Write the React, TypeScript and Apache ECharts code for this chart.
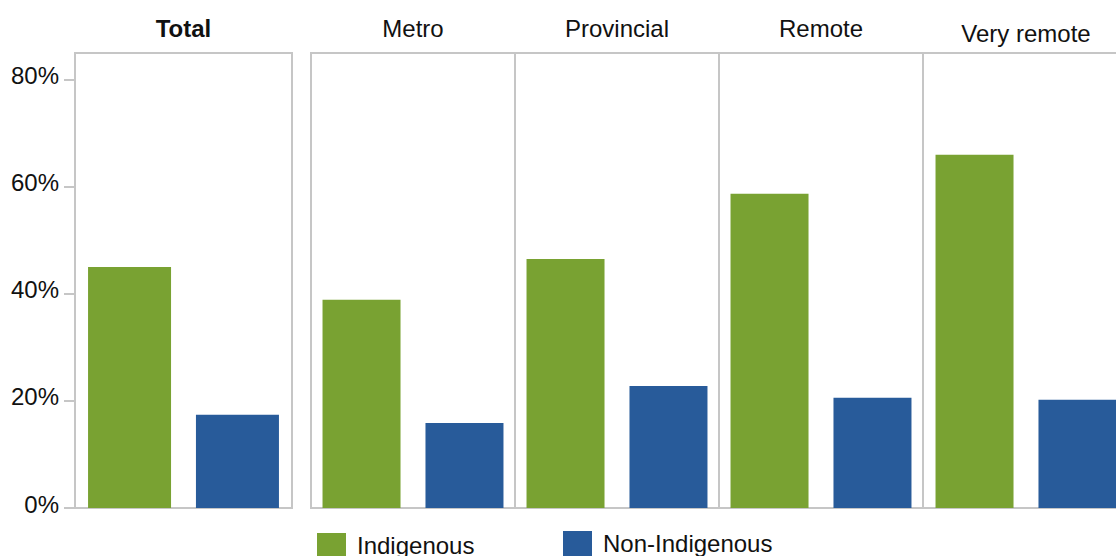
import React, { useEffect, useRef } from "react";
import * as echarts from "echarts";

const categories = ["Total", "Metro", "Provincial", "Remote", "Very remote"];
const indigenous = [45.0, 38.9, 46.5, 58.7, 66.0];
const nonIndigenous = [17.4, 15.9, 22.8, 20.6, 20.2];
const yTicks = [0, 20, 40, 60, 80];
const seriesNames = ["Indigenous", "Non-Indigenous"];

const GREEN = "#79a232";
const BLUE = "#285b9a";
const FONT = "Liberation Sans, Arial, sans-serif";

export default function App() {
  const ref = useRef<HTMLDivElement>(null);
  useEffect(() => {
    if (!ref.current) return;
    const chart = echarts.init(ref.current, undefined, { renderer: "svg" });
    const panelLefts = [75, 311, 515, 719, 923];
    const panelWidths = [217, 204, 204, 204, 206];
    const barWidths = [83, 78, 78, 78, 78];
    const gaps = ["30%", "32%", "32%", "32%", "32%"];
    const grids = categories.map((_, i) => ({
      left: panelLefts[i],
      top: 53,
      width: panelWidths[i],
      height: 455,
      show: true,
      borderColor: "#c6c6c6",
      borderWidth: 2,
      backgroundColor: "transparent",
    }));
    const xAxes = categories.map((c, i) => ({
      type: "category",
      gridIndex: i,
      data: [c],
      position: "top",
      axisLine: { show: false },
      axisTick: { show: false },
      axisLabel: {
        show: true,
        fontSize: 24,
        fontFamily: FONT,
        color: "#111",
        fontWeight: i === 0 ? "bold" : "normal",
        margin: i === 4 ? 8 : 13,
      },
    }));
    const yAxes = categories.map((_, i) => ({
      type: "value",
      gridIndex: i,
      min: 0,
      max: 85,
      interval: 20,
      splitLine: { show: false },
      axisLine: { show: false },
      axisTick: {
        show: i === 0,
        length: 11,
        customValues: yTicks,
        lineStyle: { color: "#c6c6c6", width: 2 },
      },
      axisLabel: {
        show: i === 0,
        customValues: yTicks,
        formatter: (v: number) => `{t|${v}%}\n{s|}`,
        fontSize: 24,
        fontFamily: FONT,
        color: "#111",
        margin: 16,
        rich: {
          t: { fontSize: 24, fontFamily: FONT, color: "#111", lineHeight: 24 },
          s: { fontSize: 8, lineHeight: 8 },
        },
      },
    }));
    const series: any[] = [];
    categories.forEach((_, i) => {
      series.push({
        type: "bar",
        name: seriesNames[0],
        xAxisIndex: i,
        yAxisIndex: i,
        data: [indigenous[i]],
        barWidth: barWidths[i],
        itemStyle: { color: GREEN },
      });
      series.push({
        type: "bar",
        name: seriesNames[1],
        xAxisIndex: i,
        yAxisIndex: i,
        data: [nonIndigenous[i]],
        barWidth: barWidths[i],
        barGap: gaps[i],
        itemStyle: { color: BLUE },
      });
    });
    chart.setOption({
      animation: false,
      backgroundColor: "#ffffff",
      grid: grids,
      xAxis: xAxes,
      yAxis: yAxes,
      legend: [
        {
          data: [seriesNames[0]],
          left: 317,
          top: 533,
          padding: 0,
          icon: "rect",
          itemWidth: 29,
          itemHeight: 25,
          textStyle: { fontSize: 24, fontFamily: FONT, color: "#111", padding: [0, 0, 0, 6] },
        },
        {
          data: [seriesNames[1]],
          left: 563,
          top: 531,
          padding: 0,
          icon: "rect",
          itemWidth: 29,
          itemHeight: 25,
          textStyle: { fontSize: 24, fontFamily: FONT, color: "#111", padding: [0, 0, 0, 6] },
        },
      ],
      series,
    });
    return () => chart.dispose();
  }, []);
  return (
    <div
      style={{ position: "fixed", left: 0, top: 0, width: 1116, height: 556, overflow: "hidden", background: "#fff" }}
    >
      <div ref={ref} style={{ width: 1140, height: 556 }} />
    </div>
  );
}
